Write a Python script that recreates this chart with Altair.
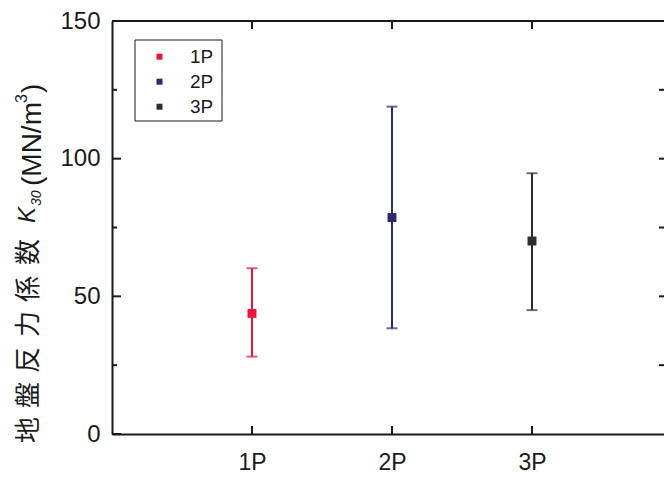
import altair as alt
import pandas as pd

# Plate-load test results: subgrade reaction modulus K30 per test pit
groups = ["1P", "2P", "3P"]
group_pos = [1, 2, 3]
k30_mean = [43.8, 78.6, 70.1]
k30_low = [28.1, 38.4, 45.0]
k30_high = [60.2, 118.9, 94.7]
group_colors = ["#e5173b", "#2b2a6c", "#28322a"]

y_major_ticks = [0, 50, 100, 150]
y_minor_ticks = [25, 75, 125]
y_right_ticks = [25, 50, 75, 100, 125]

INK = "#1a1a1a"
SANS = "Liberation Sans, Arial, Helvetica, sans-serif"
W, H = 552, 413
X_MAX = 3.943

df = pd.DataFrame({"group": groups, "pos": group_pos, "mean": k30_mean,
                   "low": k30_low, "high": k30_high})
caps = pd.DataFrame({"group": groups * 2, "pos": group_pos * 2,
                     "val": k30_low + k30_high})
one = pd.DataFrame({"k": [0]})

xs = alt.Scale(domain=[0, X_MAX], nice=False, zero=False)
ys = alt.Scale(domain=[0, 150], nice=False, zero=True)
cs = alt.Scale(domain=groups, range=group_colors)

label_expr = "[" + ", ".join(["''"] + [f"'{g}'" for g in groups]) + "][datum.value]"

x_axis = alt.Axis(values=group_pos, labelExpr=label_expr, ticks=False, tickSize=0,
                  grid=False, domainColor=INK, domainWidth=2,
                  labelFont=SANS, labelFontSize=23,
                  labelColor=INK, labelPadding=17, title=None)
y_axis = alt.Axis(values=y_major_ticks, ticks=False, tickSize=0, grid=False,
                  domainColor=INK, domainWidth=2,
                  labelFont=SANS, labelFontSize=24,
                  labelColor=INK, labelPadding=12, title=None)

bars = alt.Chart(df).mark_rule(strokeWidth=2).encode(
    x=alt.X("pos:Q", scale=xs, axis=x_axis),
    y=alt.Y("low:Q", scale=ys, axis=y_axis),
    y2="high:Q",
    color=alt.Color("group:N", scale=cs, legend=None),
)

cap_marks = alt.Chart(caps).mark_tick(orient="horizontal", thickness=2, size=11).encode(
    x=alt.X("pos:Q", scale=xs, axis=None),
    y=alt.Y("val:Q", scale=ys, axis=None),
    color=alt.Color("group:N", scale=cs, legend=None),
)

points = alt.Chart(df).mark_square(size=80, opacity=1).encode(
    x=alt.X("pos:Q", scale=xs, axis=None),
    y=alt.Y("mean:Q", scale=ys, axis=None),
    color=alt.Color("group:N", scale=cs, legend=None),
)

# frame line along the top
top_line = alt.Chart(one).mark_rule(strokeWidth=2, color=INK).encode(
    x=alt.value(0), x2=alt.value(W), y=alt.value(0)
)


def y_ticks(values, x0, x1):
    return alt.Chart(pd.DataFrame({"v": values})).mark_rule(strokeWidth=2, color=INK).encode(
        y=alt.Y("v:Q", scale=ys, axis=None), x=alt.value(x0), x2=alt.value(x1)
    )


def x_ticks(y0, y1):
    return alt.Chart(pd.DataFrame({"v": group_pos})).mark_rule(strokeWidth=2, color=INK).encode(
        x=alt.X("v:Q", scale=xs, axis=None), y=alt.value(y0), y2=alt.value(y1)
    )


tick_layers = [
    y_ticks(y_major_ticks, 0, 9),
    y_ticks(y_minor_ticks, 0, 5),
    y_ticks(y_right_ticks, W - 5, W),
    x_ticks(H - 8, H),
    x_ticks(0, 8),
]

# boxed legend in the upper-left corner of the plot
LEG_X0, LEG_X1, LEG_Y0, LEG_Y1 = 23, 110, 19, 100
LEG_ROW0, LEG_ROW_STEP = 35.7, 25
legend_df = pd.DataFrame({"group": groups,
                          "ly": [LEG_ROW0 + LEG_ROW_STEP * i for i in range(len(groups))]})
legend_box = alt.Chart(one).mark_rect(fill="white", stroke=INK, strokeWidth=1).encode(
    x=alt.value(LEG_X0), x2=alt.value(LEG_X1), y=alt.value(LEG_Y0), y2=alt.value(LEG_Y1)
)
legend_sym = alt.Chart(legend_df).mark_square(size=36, opacity=1).encode(
    x=alt.value(47.5), y=alt.Y("ly:Q", scale=None, axis=None),
    color=alt.Color("group:N", scale=cs, legend=None),
)
legend_txt = alt.Chart(legend_df).mark_text(
    align="left", baseline="middle", font=SANS, fontSize=19, color=INK
).encode(x=alt.value(78), y=alt.Y("ly:Q", scale=None, axis=None), text="group:N")


# rotated y-axis title, set piece by piece for italic / sub / superscripts
def glyph(text, x, y, size, font=SANS, style="normal",
          align="left", baseline="alphabetic"):
    return alt.Chart(one).mark_text(
        text=text, angle=270, font=font, fontSize=size, fontStyle=style,
        align=align, baseline=baseline, color=INK,
    ).encode(x=alt.value(x), y=alt.value(y))


title_cjk = "地盤反力係数"
cjk_y = [409, 374, 339, 303, 268, 231]
title_layers = [
    glyph(ch, -83, yy, 26, font="Noto Sans CJK JP", align="center", baseline="middle")
    for ch, yy in zip(title_cjk, cjk_y)
]
title_layers += [
    glyph("K", -77, 202, 24, style="italic"),
    glyph("30", -71, 185, 14, style="italic"),
    glyph("(MN/m", -71, 165, 28),
    glyph("3", -85, 82, 16),
    glyph(")", -71, 72, 28),
]

chart = alt.layer(
    bars, cap_marks, points, top_line, *tick_layers,
    legend_box, legend_sym, legend_txt, *title_layers
).resolve_axis(
    x="independent", y="independent"
).properties(
    width=W, height=H,
    padding={"left": 112, "top": 21, "right": 0, "bottom": 46},
    autosize=alt.AutoSizeParams(type="none"),
    background="white",
).configure_view(stroke=None)

chart.save("out.html", embed_options={"renderer": "svg", "actions": False})
